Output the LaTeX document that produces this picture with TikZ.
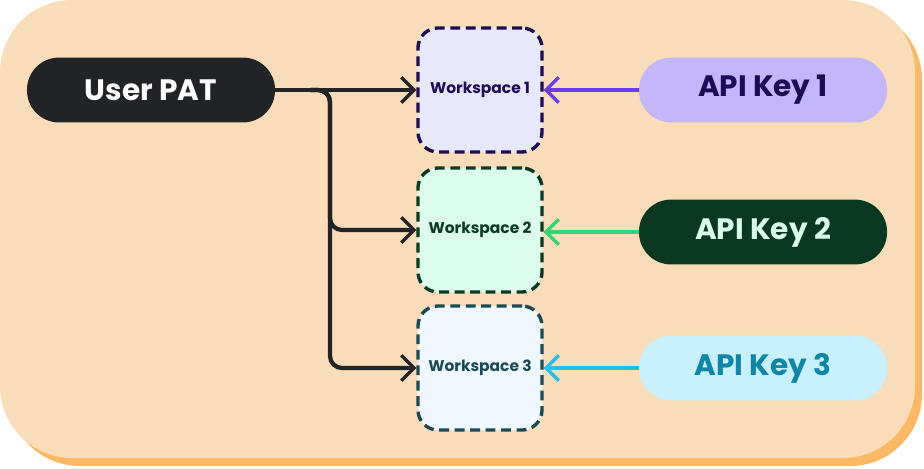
\documentclass[tikz,border=0pt]{standalone}
\usepackage{fontspec}
\setmainfont{Poppins}
\usetikzlibrary{arrows.meta,positioning}
\definecolor{bgfill}{HTML}{F9DCB8}
\definecolor{bgshadow}{HTML}{FDB863}
\definecolor{patfill}{HTML}{222326}
\definecolor{wsonefill}{HTML}{E8E8FD}
\definecolor{wsonedraw}{HTML}{1E0B57}
\definecolor{wstwofill}{HTML}{DCFDEE}
\definecolor{wstwodraw}{HTML}{0A3A21}
\definecolor{wsthreefill}{HTML}{EEF8FD}
\definecolor{wsthreedraw}{HTML}{1B4A55}
\definecolor{keyonefill}{HTML}{C4B6FB}
\definecolor{keyonearrow}{HTML}{6A3CF7}
\definecolor{keytwofill}{HTML}{083920}
\definecolor{keytwotext}{HTML}{D8FCE9}
\definecolor{keytwoarrow}{HTML}{2ED47A}
\definecolor{keythreefill}{HTML}{C8F0FD}
\definecolor{keythreetext}{HTML}{0E86A8}
\definecolor{keythreearrow}{HTML}{1EC0EE}
\tikzset{
  pill/.style={rounded corners=0.8cm, minimum width=6.2cm, minimum height=1.62cm, font=\bfseries\fontsize{21}{25}\selectfont},
  ws/.style={rounded corners=0.5cm, dash pattern=on 7pt off 4pt, line width=2.4pt, minimum width=3.1cm, minimum height=3.1cm, font=\bfseries\fontsize{11}{13}\selectfont},
  conn/.style={line width=3pt, -{Straight Barb[length=9pt,width=18pt,line width=2.4pt]}},
}
\begin{document}
\begin{tikzpicture}[x=0.025cm,y=-0.025cm]
    \useasboundingbox (0,0) rectangle (924,468);
    \fill[bgshadow, rounded corners=1.8cm] (8,8) rectangle (922,466);
    \fill[bgfill, rounded corners=1.8cm] (0,0) rectangle (915,458);
    \node[pill, fill=patfill, text=white] (pat) at (151,90) {User PAT};
    \node[ws, fill=wsonefill, draw=wsonedraw, text=wsonedraw] (ws1) at (480,90) {Workspace 1};
    \node[ws, fill=wstwofill, draw=wstwodraw, text=wstwodraw] (ws2) at (480,230) {Workspace 2};
    \node[ws, fill=wsthreefill, draw=wsthreedraw, text=wsthreedraw] (ws3) at (480,368) {Workspace 3};
    \node[pill, fill=keyonefill, text=wsonedraw] (key1) at (763,90) {API Key 1};
    \node[pill, fill=keytwofill, text=keytwotext] (key2) at (763,232) {API Key 2};
    \node[pill, fill=keythreefill, text=keythreetext] (key3) at (763,368) {API Key 3};
    \coordinate (fork) at (310,90);
    \draw[conn, patfill] (pat.east) -- (ws1.west);
    \draw[conn, patfill, rounded corners=0.3cm] (fork) -- (330,90) -- (330,230) -- (ws2.west);
    \draw[conn, patfill, rounded corners=0.3cm] (fork) -- (330,90) -- (330,368) -- (ws3.west);
    \draw[conn, keyonearrow] (key1.west) -- (ws1.east);
    \draw[conn, keytwoarrow] (key2.west) -- (key2.west -| ws2.east);
    \draw[conn, keythreearrow] (key3.west) -- (ws3.east);
\end{tikzpicture}
\end{document}
